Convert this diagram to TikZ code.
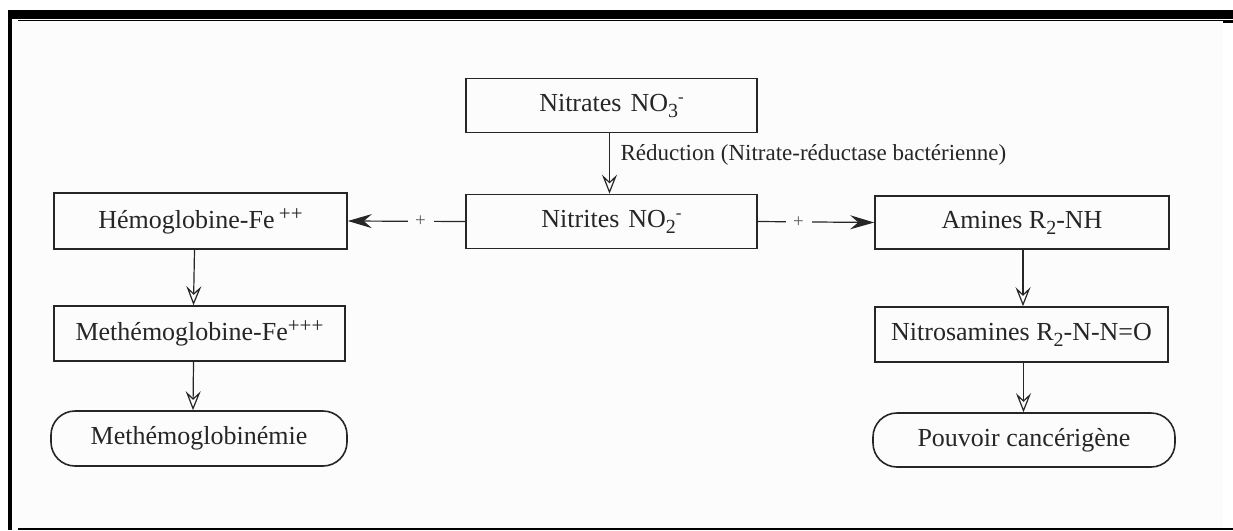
\documentclass[tikz,border=0pt]{standalone}
\usepackage{fontspec}
\setmainfont{Liberation Serif}
\usetikzlibrary{arrows.meta}
\definecolor{ink}{HTML}{262626}
\definecolor{paper}{HTML}{FCFCFC}
\newcommand{\mysub}[1]{\raisebox{-6pt}{\fontsize{20}{20}\selectfont #1}}
\newcommand{\mysup}[1]{\raisebox{9pt}{\fontsize{17}{17}\selectfont #1}}
\newcommand{\myplus}[1]{\raisebox{8pt}{\fontsize{21}{21}\selectfont #1}}
\begin{document}
\begin{tikzpicture}[x=1pt,y=-1pt,
  txt/.style={text=ink,font=\fontsize{26}{30}\selectfont},
  sqbox/.style={txt,draw=ink,line width=1.6pt,inner sep=0pt,minimum width=#1,minimum height=54pt},
  rbox/.style={sqbox=#1,rounded corners=24pt},
  down/.style={draw=ink,line width=1.2pt,-{Stealth[open,length=19pt,width=15pt,inset=7pt,line width=1.2pt]}},
  side/.style={draw=ink,line width=1.2pt,-{Stealth[length=24pt,width=14pt,inset=8pt]}},
  plus/.style={text=ink!75,font=\fontsize{19}{20}\selectfont,fill=paper,inner sep=0pt,minimum width=26pt,minimum height=10pt}
]
\useasboundingbox (0,0) rectangle (1233,530);
% frame
\fill[paper] (12,20) rectangle (1223,528);
\fill[black] (8,10) rectangle (1233,19);
\fill[black] (18,19.8) rectangle (1233,21);
\fill[black] (1223,20) rectangle (1233,22.5);
\fill[black] (8,10) rectangle (12,530);
\fill[black] (18,527.5) rectangle (1233,530);
% nodes
\node[sqbox=291pt] (nitrates) at (611.5,105.5) {Nitrates\hspace{9pt}NO\mysub{3}\mysup{-}};
\node[sqbox=291pt] (nitrites) at (611.5,221.5) {Nitrites\hspace{9pt}NO\mysub{2}\mysup{-}};
\node[sqbox=293pt,minimum height=56pt] (hemo) at (200.5,221) {Hémoglobine-Fe\,\myplus{++}};
\node[sqbox=291pt,minimum height=55pt] (methemo) at (199.5,333.5) {Methémoglobine-Fe\myplus{+++}};
\node[rbox=296pt,minimum height=55pt] (methemie) at (199,438.5) {Methémoglobinémie};
\node[sqbox=294pt,minimum height=53pt] (amines) at (1022,222.5) {Amines R\mysub{2}-NH};
\node[sqbox=293pt,minimum height=55pt] (nitros) at (1021.5,334.5) {Nitrosamines R\mysub{2}-N-N=O};
\node[rbox=302pt] (pouvoir) at (1024,440) {Pouvoir cancérigène};
% label
\node[txt,font=\fontsize{23}{26}\selectfont,anchor=west] (reduc) at (617,155) {Réduction (Nitrate-réductase bactérienne)};
% vertical arrows
\draw[down] ([xshift=-2pt]nitrates.south) -- ([xshift=-2pt]nitrites.north);
\draw[down] ([xshift=-6pt]hemo.south) -- ([xshift=-6pt]methemo.north);
\draw[down] ([xshift=-6pt]methemo.south) -- ([xshift=-6pt]methemie.north);
\draw[down] ([xshift=1pt]amines.south) -- ([xshift=1pt]amines.south |- nitros.north);
\draw[down] ([xshift=2pt]nitros.south) -- ([xshift=-0.5pt]pouvoir.north);
% side arrows
\draw[side] (nitrites.west) -- node[plus,pos=0.38] (p1) {+} (hemo.east);
\draw[side] (nitrites.east) -- node[plus,pos=0.35] (p2) {+} (amines.west);
\end{tikzpicture}
\end{document}
